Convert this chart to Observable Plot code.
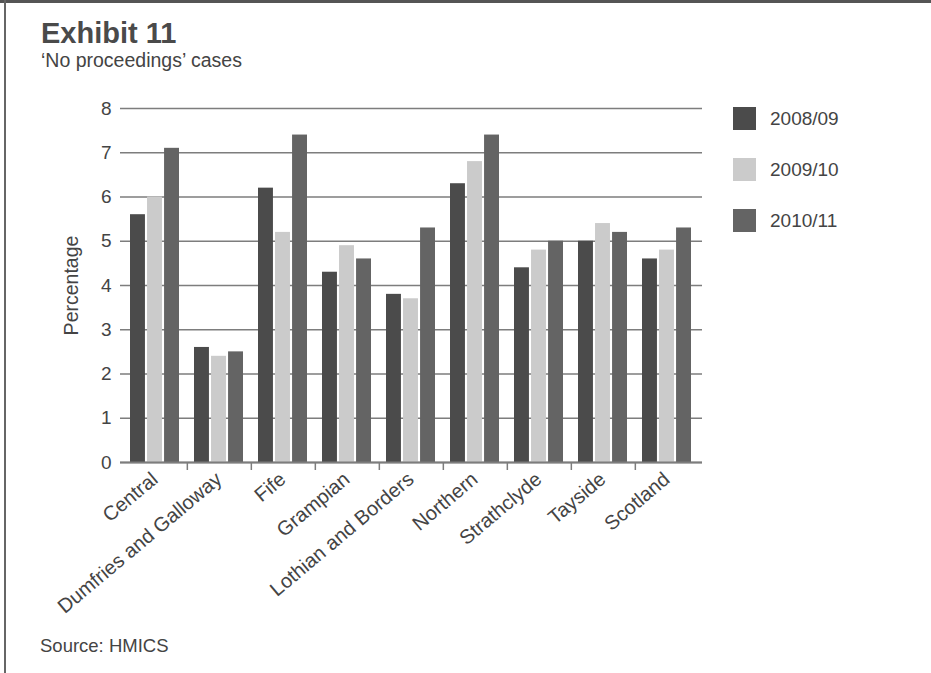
<!DOCTYPE html>
<html>
<head>
<meta charset="utf-8">
<script src="https://cdn.jsdelivr.net/npm/d3@7"></script>
<script src="https://cdn.jsdelivr.net/npm/@observablehq/plot@0.6"></script>
<style>
  html, body { margin: 0; padding: 0; background: #fff; }
  #page {
    position: relative; width: 931px; height: 673px; overflow: hidden;
    background: #fff; font-family: "Liberation Sans", Arial, sans-serif; color: #444;
  }
  #page .rule-top { position: absolute; left: 0; top: 0; width: 931px; height: 3px; background: #555; }
  #page .rule-left { position: absolute; left: 4px; top: 0; width: 2px; height: 673px; background: #666; }
  #page .title { position: absolute; left: 41px; top: 19px; font-size: 29px; line-height: 29px; font-weight: bold; color: #4a4a4a; white-space: nowrap; }
  #page .subtitle { position: absolute; left: 41px; top: 51px; font-size: 19.5px; line-height: 19.5px; color: #444; white-space: nowrap; }
  #page .source { position: absolute; left: 40px; top: 637px; font-size: 18.5px; line-height: 18.5px; color: #444; white-space: nowrap; }
  #page svg { position: absolute; left: 0; top: 0; }
  #legend { position: absolute; left: 733px; top: 107px; }
  #legend .item { display: flex; align-items: center; height: 23px; margin-bottom: 28px; }
  #legend .sw { width: 23px; height: 23px; margin-right: 14px; }
  #legend .lab { font-size: 19px; color: #444; }
</style>
</head>
<body>
<div id="page">
  <div class="rule-top"></div>
  <div class="rule-left"></div>
  <div class="title">Exhibit 11</div>
  <div class="subtitle">‘No proceedings’ cases</div>
  <div id="legend"></div>
  <div class="source">Source: HMICS</div>
</div>
<script>
// Police force areas along the x axis
const regions = ["Central", "Dumfries and Galloway", "Fife", "Grampian", "Lothian and Borders",
                 "Northern", "Strathclyde", "Tayside", "Scotland"];
// Reporting years (series)
const years = ["2008/09", "2009/10", "2010/11"];
// Percentage of 'no proceedings' cases per year
const pct0809 = [5.6, 2.6, 6.2, 4.3, 3.8, 6.3, 4.4, 5.0, 4.6];
const pct0910 = [6.0, 2.4, 5.2, 4.9, 3.7, 6.8, 4.8, 5.4, 4.8];
const pct1011 = [7.1, 2.5, 7.4, 4.6, 5.3, 7.4, 5.0, 5.2, 5.3];
// Y axis tick values
const yTicks = [0, 1, 2, 3, 4, 5, 6, 7, 8];
const seriesColors = ["#4b4b4b", "#cbcbcb", "#646464"];

const series = [pct0809, pct0910, pct1011];
const rows = years.flatMap((year, i) =>
  regions.map((region, j) => ({region, year, value: series[i][j]})));

const W = 931, H = 625;
const marginLeft = 120, marginRight = 229, marginTop = 108, marginBottom = 163;

const xOptions = {type: "band", domain: regions, paddingInner: 0.23, paddingOuter: 0.115};
const xs = Plot.scale({x: {...xOptions, range: [marginLeft, W - marginRight]}});
const bw = xs.bandwidth, step = xs.step;
const gap = 1.3;
const barW = (bw - 2 * gap) / 3;

const grey = "#7d7d7d";

// One bar mark per year, each taking its third of the region's band
const bars = years.map((year, i) =>
  Plot.barY(rows.filter(d => d.year === year), {
    x: "region", y: "value", fill: "year",
    insetLeft: i * (barW + gap),
    insetRight: (2 - i) * (barW + gap)
  }));

const chart = Plot.plot({
  width: W, height: H,
  marginLeft, marginRight, marginTop, marginBottom,
  style: {background: "transparent", fontFamily: "Liberation Sans, Arial, sans-serif", color: "#444"},
  x: xOptions,
  y: {domain: [0, 8]},
  color: {domain: years, range: seriesColors},
  marks: [
    Plot.ruleY(yTicks, {stroke: grey, strokeWidth: 1.6}),
    ...bars,
    Plot.ruleY([0], {stroke: grey, strokeWidth: 2}),
    Plot.axisY(yTicks, {tickSize: 0, tickPadding: 9, fontSize: 19, label: null, fill: "#444"}),
    Plot.axisX(regions.slice(0, -1), {tickSize: 8, dx: step / 2, tickFormat: () => "", label: null, stroke: grey, strokeWidth: 1.5}),
    Plot.text(regions, {
      x: d => d, frameAnchor: "bottom", rotate: -40, textAnchor: "end", lineAnchor: "middle",
      dx: 0, dy: 14, fontSize: 20, fill: "#444"
    }),
    Plot.text(["Percentage"], {
      frameAnchor: "left", rotate: -90, textAnchor: "middle", lineAnchor: "bottom",
      dx: -43, fontSize: 19.5, fill: "#444"
    })
  ]
});

const page = document.getElementById("page");
page.insertBefore(chart, page.querySelector("#legend"));

// Legend built from the chart's color scale
const color = chart.scale("color");
const legend = d3.select("#legend");
years.forEach(y => {
  const item = legend.append("div").attr("class", "item");
  item.append("div").attr("class", "sw").style("background", color.apply(y));
  item.append("div").attr("class", "lab").text(y);
});
</script>
</body>
</html>
